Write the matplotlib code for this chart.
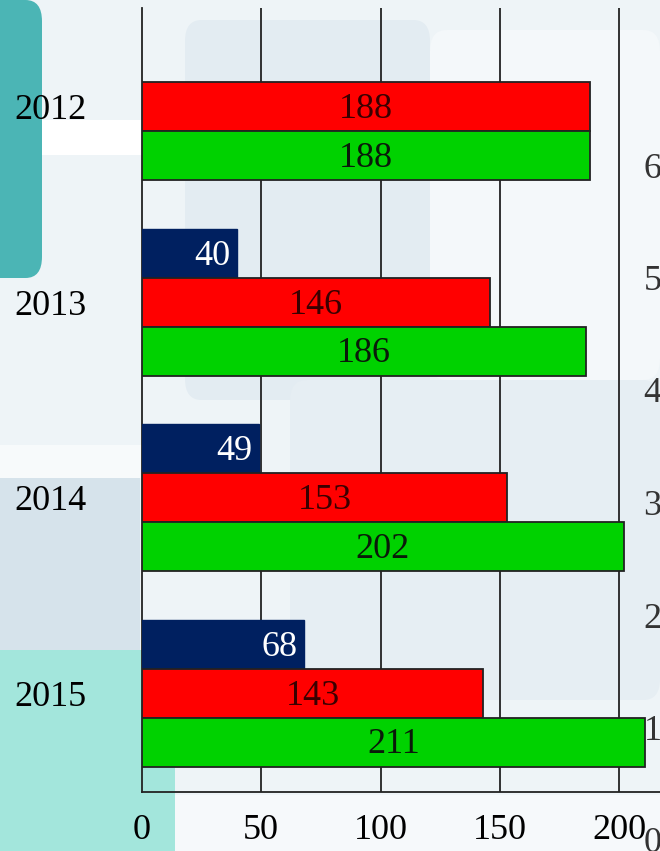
import matplotlib
matplotlib.use("Agg")
import matplotlib.pyplot as plt
import numpy as np
from matplotlib.patches import FancyBboxPatch, Rectangle

years = ["2012", "2013", "2014", "2015"]
blue_vals = [None, 40, 49, 68]
red_vals = [188, 146, 153, 143]
green_vals = [188, 186, 202, 211]
x_ticks = [0, 50, 100, 150, 200]
right_ticks = [0, 1, 2, 3, 4, 5, 6]

BLUE = "#002060"
RED = "#FF0000"
GREEN = "#00D200"
FONT = "Liberation Serif"
W, H = 660, 851

plt.rcParams["font.family"] = [FONT, "DejaVu Serif"]

fig = plt.figure(figsize=(W / 100, H / 100), dpi=100)
fig.patch.set_facecolor("#EEF4F7")


def px_rect(x0, y0, x1, y1, color, rounded=False):
    # pixel box (top-left origin) -> figure fraction patch, kept behind the axes
    fx, fy = x0 / W, 1 - y1 / H
    fw, fh = (x1 - x0) / W, (y1 - y0) / H
    if rounded:
        p = FancyBboxPatch((fx, fy), fw, fh, boxstyle="round,pad=0,rounding_size=0.025",
                           transform=fig.transFigure, facecolor=color, edgecolor="none", zorder=-5)
    else:
        p = Rectangle((fx, fy), fw, fh, transform=fig.transFigure,
                      facecolor=color, edgecolor="none", zorder=-5)
    fig.patches.append(p)


# decorative background
px_rect(185, 20, 430, 400, "#E3ECF2", rounded=True)
px_rect(430, 30, 660, 380, "#F4F8FA", rounded=True)
px_rect(290, 380, 660, 700, "#E6EEF3", rounded=True)
px_rect(0, 478, 140, 650, "#D6E3EB")
px_rect(40, 120, 142, 155, "#FFFFFF")
px_rect(0, 445, 142, 478, "#F7FAFB")
px_rect(0, 650, 175, 851, "#A3E6DC")
px_rect(175, 795, 660, 851, "#F6F9FB")
px_rect(-30, 0, 42, 278, "#4BB5B5", rounded=True)

# right-hand secondary labels (partly cropped)
ax2 = fig.add_axes([637 / W, 1 - 840 / H, 0.01, (840 - 165) / H])
ax2.set_zorder(1)
ax2.set_ylim(0, 6)
ax2.set_yticks(right_ticks)
ax2.set_yticklabels([str(t) for t in right_ticks], fontsize=26, color="#333333")
ax2.yaxis.tick_right()
ax2.tick_params(axis="y", length=0, pad=0)
ax2.set_xticks([])
ax2.patch.set_alpha(0)
for s in ax2.spines.values():
    s.set_visible(False)

ax = fig.add_axes([142 / W, 1 - 792 / H, (W - 142) / W, (792 - 8) / H])
ax.patch.set_alpha(0)
ax.set_zorder(2)

y = np.arange(len(years))
bh = 0.25
lab = dict(fontsize=26, textcoords="offset points", zorder=4, va="center")
for i in range(len(years)):
    if blue_vals[i] is not None:
        ax.barh(y[i] - bh, blue_vals[i], height=bh, color=BLUE, edgecolor=BLUE, zorder=3)
        ax.annotate(str(blue_vals[i]), (blue_vals[i], y[i] - bh), xytext=(-5, -2),
                    color="white", ha="right", **lab)
    ax.barh(y[i], red_vals[i], height=bh, color=RED, edgecolor="#222222", linewidth=1.3, zorder=3)
    ax.annotate(str(red_vals[i]), (red_vals[i] / 2, y[i]), xytext=(0, -2),
                color="#3a0000", ha="center", **lab)
    ax.barh(y[i] + bh, green_vals[i], height=bh, color=GREEN, edgecolor="#222222", linewidth=1.3, zorder=3)
    ax.annotate(str(green_vals[i]), (green_vals[i] / 2, y[i] + bh), xytext=(0, -2),
                color="#0a1a0a", ha="center", **lab)

ax.set_xlim(0, (W - 142) / ((619 - 142) / 200))
ax.set_ylim(len(years) - 0.495, -0.505)
ax.set_xticks(x_ticks)
ax.set_xticklabels([str(t) for t in x_ticks], fontsize=26)
ax.set_yticks(y)
ax.set_yticklabels(years, fontsize=26)
ax.tick_params(axis="both", length=0)
ax.tick_params(axis="x", pad=16)
ax.tick_params(axis="y", pad=40)
for t in x_ticks[1:]:
    ax.axvline(t, color="#222222", linewidth=1.3, zorder=1)
ax.spines["top"].set_visible(False)
ax.spines["right"].set_visible(False)
ax.spines["left"].set_color("#222222")
ax.spines["bottom"].set_color("#222222")
ax.spines["left"].set_linewidth(1.3)
ax.spines["bottom"].set_linewidth(1.3)

fig.savefig("out.png", dpi=100, facecolor=fig.get_facecolor())
